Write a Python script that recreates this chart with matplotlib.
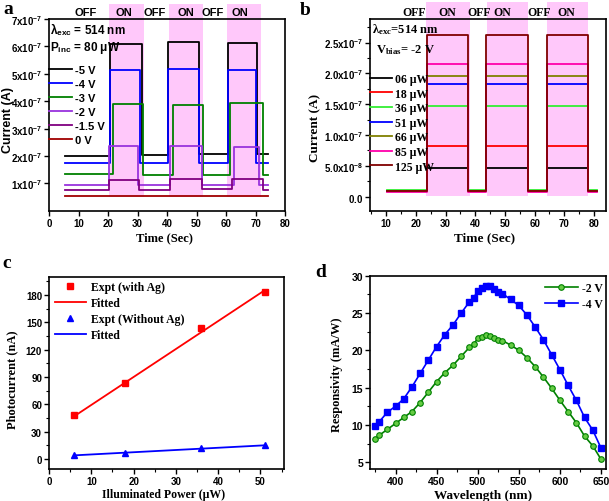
import matplotlib
matplotlib.use('Agg')
import matplotlib.pyplot as plt
from matplotlib.ticker import MultipleLocator

SANS = 'Liberation Sans'
SERIF = 'Liberation Serif'
matplotlib.rcParams['mathtext.fontset'] = 'custom'
matplotlib.rcParams['mathtext.rm'] = 'Liberation Serif:bold'
matplotlib.rcParams['mathtext.bf'] = 'Liberation Serif:bold'
matplotlib.rcParams['mathtext.it'] = 'Liberation Serif:italic:bold'
matplotlib.rcParams['mathtext.sf'] = 'Liberation Sans:bold'
matplotlib.rcParams['font.weight'] = 'bold'
PINK = '#ffc8fa'

# ---------------- panel a : current vs time at several biases ----------------
a_labels = ['-5 V', '-4 V', '-3 V', '-2 V', '-1.5 V', '0 V']
a_colors = ['black', '#0000ff', '#008000', '#9933dd', '#800080', '#a00000']
# switching times (start, on, off, on, off, on, off, end)
a_times = [
    [5.5, 20.7, 31.4, 40.5, 50.8, 60.6, 70.4, 74.3],
    [5.5, 20.6, 30.9, 40.3, 51.0, 60.8, 70.2, 74.3],
    [5.5, 21.6, 32.0, 42.1, 52.3, 61.4, 72.7, 74.3],
    [5.5, 20.5, 30.3, 41.0, 51.8, 62.6, 71.2, 74.3],
    [5.5, 20.5, 30.5, 41.0, 51.8, 61.9, 72.5, 74.3],
    [5.5, 74.3],
]
# current levels between switches (x1e-7 A)
a_levels = [
    [2.00, 6.10, 2.03, 6.15, 2.07, 6.12, 2.09],
    [1.76, 5.15, 1.76, 5.17, 1.75, 5.13, 1.74],
    [1.33, 3.90, 1.31, 3.88, 1.31, 3.93, 1.31],
    [0.95, 2.35, 0.95, 2.37, 0.95, 2.33, 0.95],
    [0.76, 1.12, 0.77, 1.15, 0.78, 1.16, 0.77],
    [0.54],
]
a_on = [(20.4, 32.2), (40.7, 52.3), (60.2, 71.8)]
a_state_x = [12.5, 25.4, 35.9, 46.4, 55.6, 64.7]
a_state_txt = ['OFF', 'ON', 'OFF', 'ON', 'OFF', 'ON']

# ---------------- panel b : current vs time at several powers ----------------
b_labels = ['06 \u03bcW', '18 \u03bcW', '36 \u03bcW', '51 \u03bcW', '66 \u03bcW', '85 \u03bcW', '125 \u03bcW']
b_colors = ['black', '#ff0000', '#33ee33', '#0000ff', '#808000', '#ff00aa', '#800000']
b_times = [10.4, 23.7, 37.7, 43.6, 57.9, 64.1, 77.8, 80.9]
b_on_level = [0.47, 0.82, 1.47, 1.83, 1.95, 2.15, 2.62]    # x1e-7 A
b_off_level = [0.085, 0.085, 0.10, 0.085, 0.085, 0.08, 0.085]
b_on = [(23.5, 38.3), (44.1, 57.7), (64.3, 78.1)]
b_state_x = [19.4, 30.5, 41.3, 49.0, 61.5, 70.6]
b_state_txt = ['OFF', 'ON', 'OFF', 'ON', 'OFF', 'ON']

# ---------------- panel c : photocurrent vs power ----------------
c_power = [6, 18, 36, 51]
c_with_ag = [48, 83, 144, 183]
c_without_ag = [4, 7, 12, 15]
c_fit_x = [6, 51]
c_fit_with = [47, 185]
c_fit_without = [4, 15]

# ---------------- panel d : responsivity vs wavelength ----------------
d_wl = [375, 380, 390, 400, 410, 420, 430, 440, 450, 460, 470, 480, 490, 495, 500,
        505, 510, 515, 520, 525, 530, 540, 550, 560, 570, 580, 590, 600, 610, 620,
        630, 640, 650]
d_2v = [8.1, 8.6, 9.4, 10.2, 11.0, 11.8, 13.0, 14.4, 15.8, 17.0, 18.0, 19.2, 20.4, 20.8, 21.6,
        21.8, 22.0, 21.9, 21.6, 21.4, 21.3, 20.7, 20.0, 19.0, 17.8, 16.4, 14.9, 13.3, 11.8, 10.3,
        8.5, 7.2, 5.4]
d_4v = [9.8, 10.4, 11.7, 12.5, 13.5, 15.1, 16.9, 18.7, 20.5, 22.1, 23.4, 25.0, 26.5, 27.0, 28.0,
        28.3, 28.6, 28.6, 28.2, 27.8, 27.6, 26.8, 26.0, 24.7, 23.1, 21.4, 19.4, 17.4, 15.3, 13.3,
        11.0, 9.3, 6.9]

fig = plt.figure(figsize=(6.09, 5.02), dpi=100)
ax_a = fig.add_axes([0.0805, 0.578, 0.3875, 0.382])
ax_b = fig.add_axes([0.6076, 0.578, 0.3874, 0.382])
ax_c = fig.add_axes([0.0805, 0.0637, 0.3854, 0.3833])
ax_d = fig.add_axes([0.6076, 0.0637, 0.3874, 0.3853])


def style(ax, fam, size=7):
    for s in ax.spines.values():
        s.set_linewidth(1.2)
    ax.tick_params(direction='out', length=3.5, width=1, labelsize=size, pad=1.5,
                   top=False, right=False)
    ax.tick_params(which='minor', direction='out', length=2, width=0.8)
    for lab in ax.get_xticklabels() + ax.get_yticklabels():
        lab.set_fontfamily(fam)
        lab.set_fontweight('bold')


# ---- a ----
ax = ax_a
for x0, x1 in a_on:
    ax.axvspan(x0, x1, ymin=0.074, ymax=1.078, color=PINK, lw=0, zorder=0, clip_on=False)
handles = []
for lab, col, t, lv in zip(a_labels, a_colors, a_times, a_levels):
    y = [v * 1e-7 for v in lv] + [lv[-1] * 1e-7]
    ln, = ax.plot(t, y, drawstyle='steps-post', color=col, lw=1.3, label=lab)
    handles.append(ln)
ax.set_xlim(0, 80)
ax.set_ylim(0, 7e-7)
ax.set_xticks(range(0, 81, 10))
ax.set_yticks([i * 1e-7 for i in range(1, 8)],
              [r'$\mathsf{%dx10^{-7}}$' % i for i in range(1, 8)])
style(ax, SANS)
for xs, s in zip(a_state_x, a_state_txt):
    ax.text(xs, 1.035, s, transform=ax.get_xaxis_transform(), ha='center', va='center',
            family=SANS, weight='bold', fontsize=8)
ax.text(0.005, 0.948, '\u03bb$_{\\mathsf{exc}}$ = 514 nm', transform=ax.transAxes,
        family=SANS, weight='bold', fontsize=8.5, va='center')
ax.text(0.005, 0.854, 'P$_{\\mathsf{inc}}$ = 80 \u03bcW', transform=ax.transAxes,
        family=SANS, weight='bold', fontsize=8.5, va='center')
ax.legend(handles=handles, loc='upper left', bbox_to_anchor=(0, 0.762), frameon=False,
          borderpad=0, borderaxespad=0, handlelength=2.1, handletextpad=0.2,
          labelspacing=0.37, prop={'family': SANS, 'weight': 'bold', 'size': 8})
ax.set_ylabel('Current (A)', family=SANS, weight='bold', fontsize=9)
ax.set_xlabel('Time (Sec)', family=SERIF, weight='bold', fontsize=9)
ax.yaxis.set_label_coords(-0.15, 0.48)
ax.xaxis.set_label_coords(0.49, -0.105)

# ---- b ----
ax = ax_b
for x0, x1 in b_on:
    ax.axvspan(x0, x1, ymin=0.075, ymax=1.089, color=PINK, lw=0, zorder=0, clip_on=False)
handles = []
for lab, col, on, off in zip(b_labels, b_colors, b_on_level, b_off_level):
    y = [off, on, off, on, off, on, off, off]
    y = [v * 1e-7 for v in y]
    ln, = ax.plot(b_times, y, drawstyle='steps-post', color=col, lw=1.3, label=lab)
    handles.append(ln)
ax.set_xlim(4.6, 84)
ax.set_ylim(-0.23e-7, 2.88e-7)
ax.set_xticks(range(10, 81, 10))
ax.xaxis.set_minor_locator(MultipleLocator(5))
ax.yaxis.set_minor_locator(MultipleLocator(0.25e-7))
ax.set_yticks([0, 0.5e-7, 1.0e-7, 1.5e-7, 2.0e-7, 2.5e-7],
              [r'$\mathsf{0.0}$', r'$\mathsf{5.0x10^{-8}}$', r'$\mathsf{1.0x10^{-7}}$',
               r'$\mathsf{1.5x10^{-7}}$', r'$\mathsf{2.0x10^{-7}}$', r'$\mathsf{2.5x10^{-7}}$'])
style(ax, SANS)
for xs, s in zip(b_state_x, b_state_txt):
    ax.text(xs, 1.035, s, transform=ax.get_xaxis_transform(), ha='center', va='center',
            family=SERIF, weight='bold', fontsize=8.5)
ax.text(0.01, 0.951, '\u03bb$_{\\mathrm{exc}}$=514 nm', transform=ax.transAxes,
        family=SERIF, weight='bold', fontsize=9, va='center')
ax.text(0.025, 0.844, 'V$_{\\mathrm{bias}}$= -2 V', transform=ax.transAxes,
        family=SERIF, weight='bold', fontsize=9, va='center')
ax.legend(handles=handles, loc='upper left', bbox_to_anchor=(0, 0.719), frameon=False,
          borderpad=0, borderaxespad=0, handlelength=1.9, handletextpad=0.2,
          labelspacing=0.22, prop={'family': SERIF, 'weight': 'bold', 'size': 8.5})
ax.set_ylabel('Current (A)', family=SERIF, weight='bold', fontsize=9.5)
ax.set_xlabel('Time (Sec)', family=SERIF, weight='bold', fontsize=9.5)
ax.yaxis.set_label_coords(-0.205, 0.44)
ax.xaxis.set_label_coords(0.487, -0.105)

# ---- c ----
ax = ax_c
ax.plot(c_power, c_with_ag, 's', color='#ff0000', ms=4.5, label='Expt (with Ag)')
ax.plot(c_fit_x, c_fit_with, '-', color='#ff0000', lw=1.3, label='Fitted')
ax.plot(c_power, c_without_ag, '^', color='#0000ff', ms=4.5, label='Expt (Without Ag)')
ax.plot(c_fit_x, c_fit_without, '-', color='#0000ff', lw=1.3, label='Fitted')
ax.set_xlim(0, 55.5)
ax.set_ylim(-11, 200)
ax.set_xticks(range(0, 51, 10))
ax.set_yticks(range(0, 181, 30))
ax.xaxis.set_minor_locator(MultipleLocator(5))
ax.yaxis.set_minor_locator(MultipleLocator(15))
style(ax, SANS)
ax.legend(loc='upper left', bbox_to_anchor=(0.026, 0.978), frameon=False,
          borderpad=0, borderaxespad=0, handlelength=2.6, handletextpad=0.4,
          labelspacing=0.35, prop={'family': SERIF, 'weight': 'bold', 'size': 8.5})
ax.set_ylabel('Photocurrent (nA)', family=SERIF, weight='bold', fontsize=9)
ax.set_xlabel('Illuminated Power (\u03bcW)', family=SERIF, weight='bold', fontsize=8.5)
ax.yaxis.set_label_coords(-0.13, 0.47)
ax.xaxis.set_label_coords(0.49, -0.098)

# ---- d ----
ax = ax_d
ax.plot(d_wl, d_2v, '-o', color='#008000', mfc='#66cc44', mec='#008000', ms=4, mew=0.8,
        lw=1.2, label='-2 V')
ax.plot(d_wl, d_4v, '-s', color='#0000ff', ms=4, lw=1.2, label='-4 V')
ax.set_xlim(369, 656)
ax.set_ylim(4.1, 30)
ax.set_xticks(range(400, 651, 50))
ax.set_yticks(range(5, 31, 5))
ax.xaxis.set_minor_locator(MultipleLocator(25))
ax.yaxis.set_minor_locator(MultipleLocator(2.5))
style(ax, SANS, 7.5)
ax.legend(loc='upper right', bbox_to_anchor=(0.985, 0.967), frameon=False,
          borderpad=0, borderaxespad=0, handlelength=2.8, handletextpad=0.3,
          labelspacing=0.35, prop={'family': SERIF, 'weight': 'bold', 'size': 8.5})
ax.set_ylabel('Responsivity (mA/W)', family=SERIF, weight='bold', fontsize=9)
ax.set_xlabel('Wavelength (nm)', family=SERIF, weight='bold', fontsize=9.5)
ax.yaxis.set_label_coords(-0.114, 0.49)
ax.xaxis.set_label_coords(0.48, -0.105)

# panel letters
for x, y, s in [(0.005, 0.972, 'a'), (0.493, 0.970, 'b'), (0.004, 0.466, 'c'), (0.517, 0.448, 'd')]:
    fig.text(x, y, s, family=SERIF, weight='bold', fontsize=14, va='baseline')

fig.savefig('out.png', dpi=100)
